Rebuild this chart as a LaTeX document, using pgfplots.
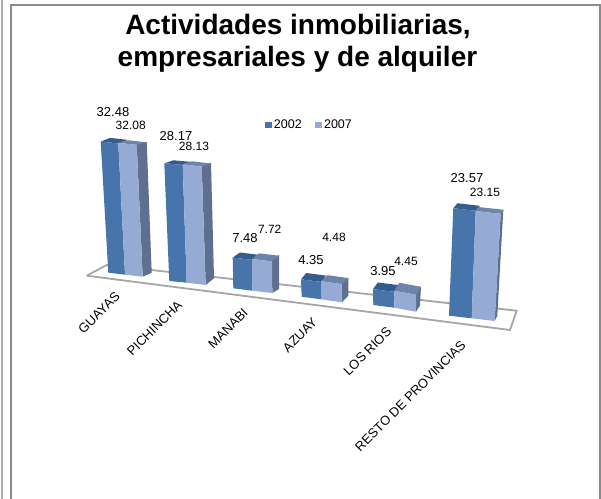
\documentclass[border=0pt]{standalone}
\usepackage{fontspec}
\setmainfont{Liberation Sans}
\usepackage{pgfplots}
\pgfplotsset{compat=1.18}
\definecolor{dkfront}{HTML}{4674AB}
\definecolor{ltfront}{HTML}{95ABD3}
\definecolor{dktop}{HTML}{365C8C}
\definecolor{lttop}{HTML}{6C84AA}
\definecolor{sidec}{HTML}{5E6F8F}
\definecolor{floorc}{HTML}{A6A6A6}
\definecolor{framec}{HTML}{8C8C8C}
\newcommand\fs[1]{\fontsize{#1bp}{#1bp}\selectfont}
% one bar: BLx BLy BRx BRy value scale leanL leanR depthx depthy frontcolour topcolour
\newcommand\frontbar[1]{\frontbarA#1\relax}
\def\frontbarA#1 #2 #3 #4 #5 #6 #7 #8 #9\relax{%
  \def\BLx{#1}\def\BLy{#2}\def\BRx{#3}\def\BRy{#4}\def\Val{#5}\def\Sc{#6}\def\Ll{#7}\def\Lr{#8}\frontbarB#9\relax}
\def\frontbarB#1 #2 #3 #4\relax{%
  \pgfmathsetmacro\TLx{\BLx+\Ll*\Val}\pgfmathsetmacro\TLy{\BLy-\Sc*\Val}%
  \pgfmathsetmacro\TRx{\BRx+\Lr*\Val}\pgfmathsetmacro\TRy{\BRy-\Sc*\Val}%
  \pgfmathsetmacro\BkLx{\TLx+#1}\pgfmathsetmacro\BkLy{\TLy+#2}%
  \pgfmathsetmacro\BkRx{\TRx+#1}\pgfmathsetmacro\BkRy{\TRy+#2}%
  \edef\tmp{\noexpand\addplot[fill=#4,draw=none,forget plot] coordinates {(\TLx,\TLy)(\TRx,\TRy)(\BkRx,\BkRy)(\BkLx,\BkLy)(\TLx,\TLy)};}\tmp
  \edef\tmp{\noexpand\addplot[fill=#3,draw=none,forget plot] coordinates {(\BLx,\BLy)(\BRx,\BRy)(\TRx,\TRy)(\TLx,\TLy)(\BLx,\BLy)};}\tmp
}
% side: BRx BRy TRx TRy dxTop dyTop dxBottom dyBottom
\newcommand\sidebar[8]{%
  \pgfmathsetmacro\Ax{#3+#5}\pgfmathsetmacro\Ay{#4+#6}%
  \pgfmathsetmacro\Bx{#1+#7}\pgfmathsetmacro\By{#2+#8}%
  \edef\tmp{\noexpand\addplot[fill=sidec,draw=none,forget plot] coordinates {(#1,#2)(#3,#4)(\Ax,\Ay)(\Bx,\By)(#1,#2)};}\tmp
}
\begin{document}
\begin{tikzpicture}
\path[use as bounding box] (0,0) rectangle (601bp,499bp);
\begin{axis}[
  at={(0,0)},anchor=south west,
  x=1bp,y=1bp,xmin=0,xmax=601,ymin=0,ymax=499,y dir=reverse,
  axis lines=none,clip=false,
  legend style={at={(axis cs:264.7,125)},anchor=west,draw=none,fill=none,font=\fs{12.5},legend columns=2,
    inner sep=0pt,outer sep=0pt,
    /tikz/every even column/.append style={column sep=11bp}},
  legend cell align=left,
  legend image code/.code={\fill[#1] (0bp,-3bp) rectangle (7.3bp,3bp);},
  every node/.append style={inner sep=0pt},
]
\addlegendimage{fill=dkfront,draw=none}
\addlegendentry{2002}
\addlegendimage{fill=ltfront,draw=none}
\addlegendentry{2007}
% frame
\addplot[framec!70,line width=1.6bp,forget plot] coordinates {(2,0)(2,499)};
\addplot[framec,line width=1.8bp,forget plot] coordinates {(11,499)(11,5)(600,5)(600,499)};
% floor
\addplot[floorc,line width=1.8bp,forget plot] coordinates {(86.7,275.7)(106.7,265)(516.7,310.7)(510,330)(86.7,275.7)};
% GUAYAS
\sidebar{142.7}{276.7}{136.7}{144.3}{10}{-2.6}{9}{-4}
\frontbar{108.3 272.7 125 274.7 32.48 4.04 -0.234 -0.206 9.5 -3.6 dkfront dktop}
\frontbar{125 274.7 142.7 276.7 32.08 4.11 -0.209 -0.187 10 -2.6 ltfront lttop}
% PICHINCHA
\sidebar{205.7}{285}{201.7}{165.7}{9.3}{-3}{8.3}{-6.7}
\frontbar{169.3 281 186.7 282.7 28.17 4.18 -0.178 -0.142 9 -3 dkfront dktop}
\frontbar{186.7 282.7 205.7 285 28.13 4.21 -0.142 -0.142 9.3 -3 ltfront lttop}
% MANABI
\sidebar{272.3}{293}{272}{260.7}{7}{-5.7}{6.7}{-4}
\frontbar{233.3 288.3 252.3 290.7 7.48 4.12 -0.08 -0.04 7.3 -5 dkfront dktop}
\frontbar{252.3 290.7 272.3 293 7.72 4.1 -0.04 -0.04 7 -5.7 ltfront lttop}
% AZUAY
\sidebar{341.7}{302.3}{341.7}{283.3}{6.6}{-6}{6.6}{-6.6}
\frontbar{301.7 296.7 321 299.3 4.35 4.0 -0.16 0 5.2 -6.3 dkfront dktop}
\frontbar{321 299.3 341.7 302.3 4.48 4.05 0 0 6.6 -6 ltfront lttop}
% LOS RIOS
\sidebar{416}{311.7}{416}{294}{5}{-8}{4}{-6}
\frontbar{373.3 305 394.3 307.7 3.95 4.01 -0.08 0 4.8 -6.7 dkfront dktop}
\frontbar{394.3 307.7 416 311.7 4.45 3.8 0 0 5 -8 ltfront lttop}
% RESTO
\sidebar{494.7}{321}{500.7}{213.3}{2.6}{-3.3}{2.6}{-5.3}
\frontbar{449 315.7 471.7 318.3 23.57 4.56 0.182 0.17 4.2 -5 dkfront dktop}
\frontbar{471.7 318.3 494.7 321 23.15 4.63 0.173 0.259 3.5 -4 ltfront lttop}
% data labels
\node[font=\fs{13}] at (axis cs:113,112.3) {32.48};
\node[font=\fs{12}] at (axis cs:130.7,125) {32.08};
\node[font=\fs{13}] at (axis cs:176,135.7) {28.17};
\node[font=\fs{12}] at (axis cs:194,146) {28.13};
\node[font=\fs{13}] at (axis cs:245,238) {7.48};
\node[font=\fs{12}] at (axis cs:269.7,229) {7.72};
\node[font=\fs{13}] at (axis cs:311,260) {4.35};
\node[font=\fs{12}] at (axis cs:334,237.7) {4.48};
\node[font=\fs{13}] at (axis cs:383,270.7) {3.95};
\node[font=\fs{12}] at (axis cs:406,261.7) {4.45};
\node[font=\fs{13}] at (axis cs:467,178) {23.57};
\node[font=\fs{12}] at (axis cs:485,192.7) {23.15};
% category labels
\node[font=\fs{13},rotate=45] at (axis cs:99,313) {GUAYAS};
\node[font=\fs{13},rotate=45] at (axis cs:154.5,328) {PICHINCHA};
\node[font=\fs{13},rotate=45] at (axis cs:228,328.3) {MANABI};
\node[font=\fs{13},rotate=45] at (axis cs:300,335) {AZUAY};
\node[font=\fs{13},rotate=45] at (axis cs:367.3,351.3) {LOS RIOS};
\node[font=\fs{13},rotate=45] at (axis cs:410.3,396) {RESTO DE PROVINCIAS};
% title
\node[font=\fs{28}\bfseries,anchor=base] at (axis cs:298,34) {Actividades inmobiliarias,};
\node[font=\fs{28}\bfseries,anchor=base] at (axis cs:297.5,66.7) {empresariales y de alquiler};
\end{axis}
\end{tikzpicture}
\end{document}
